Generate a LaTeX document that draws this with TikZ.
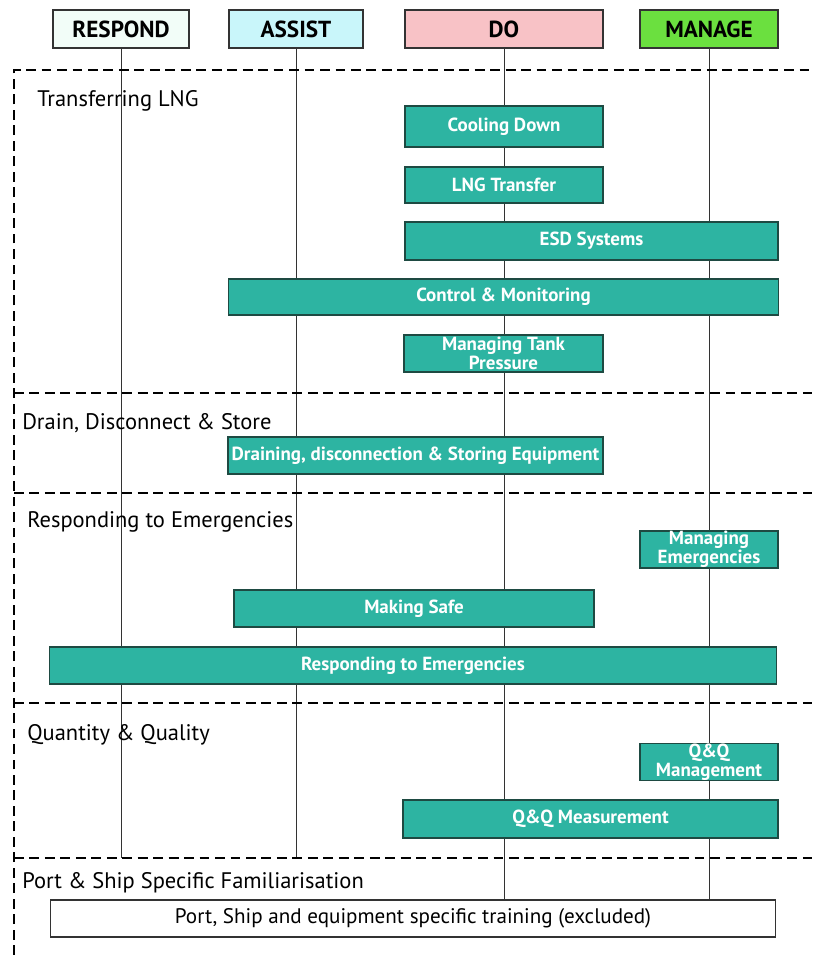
\documentclass[tikz,border=0pt]{standalone}
\usepackage{fontspec}
\setmainfont{PT Sans}
\usepackage{tikz}
\usetikzlibrary{positioning, backgrounds}
\definecolor{tealbox}{HTML}{2DB4A2}
\definecolor{tealline}{HTML}{1E4A42}
\definecolor{respfill}{HTML}{F2FDF8}
\definecolor{assistfill}{HTML}{C9F6FA}
\definecolor{dofill}{HTML}{F8C2C6}
\definecolor{managefill}{HTML}{6BE03F}
\tikzset{
    role/.style={
        rectangle, draw=black!80, thick,
        inner sep=0pt,
        minimum height=0.95cm,
        font=\fontsize{16.5}{18}\selectfont\bfseries
    },
    task/.style={
        rectangle, draw=tealline, thick,
        fill=tealbox, text=white,
        inner sep=0pt, align=center,
        font=\fontsize{13.5}{11.5}\selectfont\bfseries
    },
    plain/.style={
        rectangle, draw=black!80, thick,
        fill=white, inner sep=0pt,
        font=\fontsize{15}{17}\selectfont
    },
    section/.style={
        anchor=west, inner sep=0pt,
        font=\fontsize{16}{18}\selectfont
    },
    sep/.style={
        thick, dash pattern=on 7pt off 4pt
    },
    lane/.style={
        thin, black!80
    },
}

\begin{document}
\begin{tikzpicture}
            [x=0.025cm, y=-0.025cm]
            \useasboundingbox (0,0) rectangle (812,955);
            % Draw role headers
            \node[role, fill=respfill, minimum width=3.4cm] (respond) at (121,29) {RESPOND};
            \node[role, fill=assistfill, minimum width=3.35cm] (assist) at (296,29) {ASSIST};
            \node[role, fill=dofill, minimum width=4.95cm] (do) at (504,29) {DO};
            \node[role, fill=managefill, minimum width=3.45cm] (manage) at (709,29) {MANAGE};

            % Draw section frame
            \coordinate (s0) at (14,70);
            \coordinate (s1) at (14,393);
            \coordinate (s2) at (14,493);
            \coordinate (s3) at (14,703);
            \coordinate (s4) at (14,858);
            \coordinate (s5) at (14,955);
            \draw[sep] (s5) -- (s0) -- (812,70);
            \foreach \s in {s1, s2, s3, s4}
                \draw[sep] (\s) -- (812,0 |- \s);

            \node[section] (lblTransfer) at (37,101) {Transferring LNG};
            \node[section] (lblDrain) at (22,423) {Drain, Disconnect \& Store};
            \node[section] (lblEmerg) at (27,522) {Responding to Emergencies};
            \node[section] (lblQQ) at (27,735) {Quantity \& Quality};
            \node[section] (lblPort) at (22,883) {Port \& Ship Specific Familiarisation};

            % Draw transferring LNG
            \node[task, minimum width=4.95cm, minimum height=1.025cm] (cool) at (504,126.5) {Cooling Down};
            \node[task, minimum width=4.95cm, minimum height=0.9cm] (transfer) at (504,185) {LNG Transfer};
            \node[task, minimum width=9.325cm, minimum height=0.95cm] (esd) at (591.5,241) {ESD Systems};
            \node[task, minimum width=13.725cm, minimum height=0.9cm] (control) at (503.5,297) {Control \& Monitoring};
            \node[task, minimum width=4.975cm, minimum height=0.925cm] (tank) at (503.5,353.5) {Managing Tank\\Pressure};

            % Draw drain, disconnect & store
            \node[task, minimum width=9.375cm, minimum height=0.925cm] (drain) at (415.5,455.5) {Draining, disconnection \& Storing Equipment};

            % Draw emergencies
            \node[task, minimum width=3.45cm, minimum height=0.925cm] (mgEmerg) at (709,549.5) {Managing\\Emergencies};
            \node[task, minimum width=9.0cm, minimum height=0.925cm] (safe) at (414,608.5) {Making Safe};
            \node[task, minimum width=18.15cm, minimum height=0.925cm] (respEmerg) at (413,665.5) {Responding to Emergencies};

            % Draw quantity & quality
            \node[task, minimum width=3.45cm, minimum height=0.9cm] (qqMgmt) at (709,762) {Q\&Q\\Management};
            \node[task, minimum width=9.375cm, minimum height=0.95cm] (qqMeas) at (590.5,819) {Q\&Q Measurement};

            % Draw port & ship
            \node[plain, minimum width=18.1cm, minimum height=0.925cm] (portTrain) at (413,918.5) {Port, Ship and equipment specific training (excluded)};

            % Draw lanes behind the boxes
            \begin{scope}[on background layer]
                \draw[lane] (respond.south) -- (respond.south |- s4);
                \draw[lane] (assist.south) -- (assist.south |- s4);
                \draw[lane] (do.south) -- (do.south |- portTrain.north);
                \draw[lane] (manage.south) -- (manage.south |- portTrain.north);
            \end{scope}

        \end{tikzpicture}
\end{document}
